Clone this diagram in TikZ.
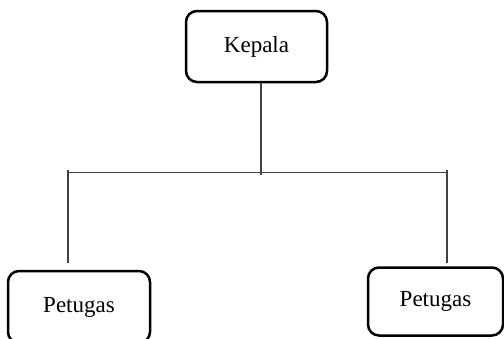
\documentclass[tikz,border=0pt]{standalone}
\usepackage{fontspec}
\setmainfont{Liberation Serif}
\usetikzlibrary{calc}
\begin{document}
\begin{tikzpicture}[x=1pt,y=1pt,
  unit/.style={draw=black, line width=2.5pt, rounded corners=11pt,
    inner sep=0pt, align=center, font=\fontsize{23}{27}\selectfont},
  link/.style={draw=black!75, line width=1.5pt}]
\useasboundingbox (0,0) rectangle (504,-338);
\clip (0,0) rectangle (504,-338);
% boxes
\node[unit, minimum width=141pt, minimum height=71pt] (kepala) at (256.5,-46.5) {Kepala};
\node[unit, minimum width=142pt, minimum height=72pt] (pa) at (79,-307) {Petugas};
\node[unit, minimum width=135pt, minimum height=68pt] (pb) at (435.5,-301.5) {Petugas};
% junction points
\coordinate (stem) at (261,-175);
\coordinate (jl) at (68,-172.5);
\coordinate (jr) at (447,-172.5);
\coordinate (el) at (68,-263);
\coordinate (er) at (447,-263);
% connectors
\draw[link] (stem |- kepala.south) -- (stem);
\draw[link] (jl) -- (jr);
\draw[link] ($(jl)+(0,2.5)$) -- (el);
\draw[link] ($(jr)+(0,2.5)$) -- (er);
\end{tikzpicture}
\end{document}
